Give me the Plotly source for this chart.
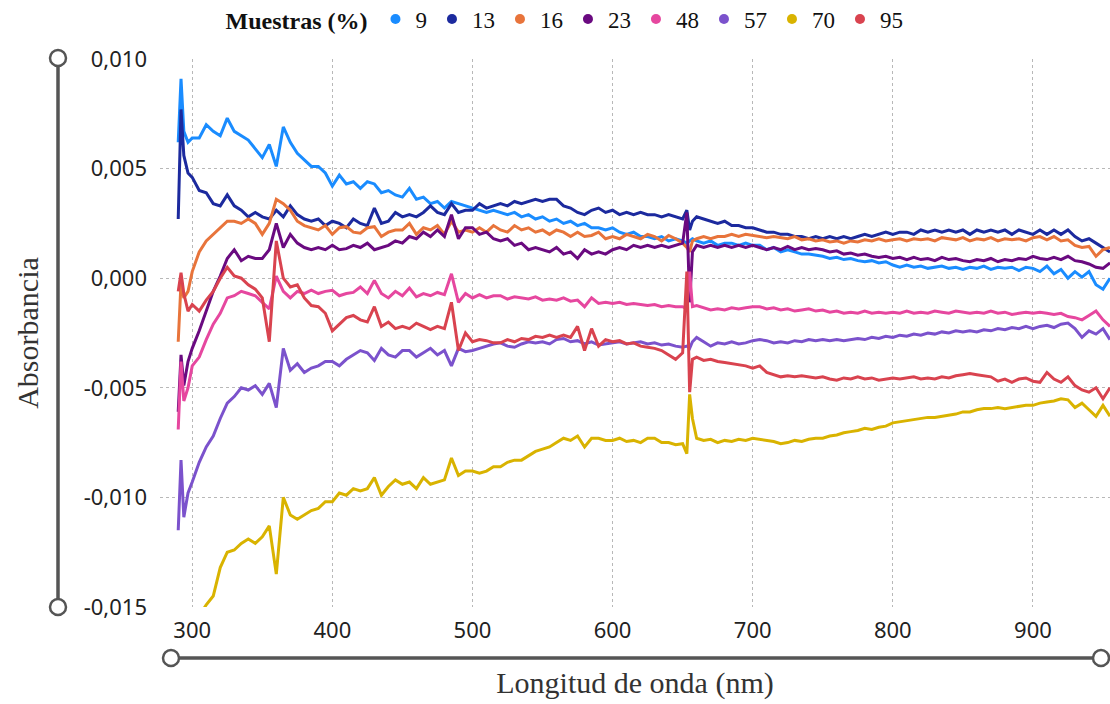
import plotly.graph_objects as go

# Wavelength grid (nm)
wavelength = [290, 292, 294, 297] + list(range(300, 651, 5)) + [653, 655, 657] + list(range(660, 956, 5))

# Absorbance values in milli-units (x 1e-3)
s9 = [6.2, 9.1, 6.7, 6.2,
      6.4, 6.4, 7.0, 6.7, 6.5, 7.3, 6.7, 6.5, 6.3, 5.9,
      5.5, 6.1, 5.1, 6.9, 6.2, 5.7, 5.4, 5.1, 5.1, 4.8,
      4.2, 4.7, 4.3, 4.4, 4.1, 4.4, 4.3, 3.9, 4.0, 3.8,
      3.7, 4.1, 3.6, 3.7, 3.4, 3.5, 3.2, 3.5, 3.4, 3.3,
      3.2, 3.1, 3.0, 3.1, 3.0, 2.9, 3.0, 2.8, 2.9, 2.7,
      2.8, 2.6, 2.7, 2.5, 2.6, 2.4, 2.5, 2.3, 2.3, 2.2,
      2.3, 2.1, 2.0, 2.1, 1.9, 1.9, 1.8, 1.9, 1.7, 1.8,
      1.7, 1.6, 1.7, 1.8,
      1.7, 1.6, 1.7, 1.5, 1.6, 1.6, 1.5, 1.6, 1.5, 1.5,
      1.3, 1.4, 1.2, 1.3, 1.2, 1.1, 1.1, 1.05, 1.0, 0.9,
      0.95, 0.85, 0.9, 0.8, 0.75, 0.8, 0.7, 0.75, 0.6, 0.5,
      0.6, 0.5, 0.55, 0.45, 0.5, 0.55, 0.45, 0.5, 0.4, 0.5,
      0.45, 0.55, 0.4, 0.5, 0.45, 0.5, 0.35, 0.5, 0.45, 0.3,
      0.55, 0.2, 0.4, 0.0, 0.3, 0.05, 0.3, -0.3, -0.5, 0.0]

s13 = [2.7, 7.7, 5.6, 4.8,
       4.6, 4.0, 3.9, 3.4, 3.3, 3.8, 3.3, 3.1, 2.8, 3.0,
       2.8, 2.7, 3.1, 2.8, 3.3, 2.9, 2.7, 2.6, 2.7, 2.4,
       2.6, 2.5, 2.3, 2.7, 2.5, 2.4, 3.2, 2.5, 2.6, 3.0,
       2.8, 2.9, 2.8, 3.0, 3.3, 3.0, 2.9, 3.4, 3.0, 3.1,
       3.1, 3.4, 3.2, 3.3, 3.4, 3.3, 3.5, 3.4, 3.5, 3.6,
       3.5, 3.6, 3.6, 3.3, 3.2, 3.0, 2.9, 3.1, 3.2, 3.0,
       3.1, 2.9, 3.0, 2.9, 3.0, 2.9, 2.9, 2.8, 2.9, 2.8,
       2.7, 3.1, 2.2, 2.6,
       2.8, 2.7, 2.6, 2.5, 2.6, 2.4, 2.4, 2.3, 2.3, 2.2,
       2.1, 2.1, 2.0, 2.0, 1.9, 1.9, 1.8, 1.9, 1.8, 1.9,
       1.8, 1.9, 1.8, 1.9, 2.0, 1.9, 2.0, 2.1, 2.0, 2.1,
       2.1, 2.0, 2.2, 2.1, 2.2, 2.1, 2.2, 2.1, 2.2, 2.0,
       2.2, 2.1, 2.2, 2.1, 2.2, 2.0, 2.2, 2.1, 2.0, 2.2,
       2.0, 2.2, 2.0, 2.2, 1.9, 1.7, 1.8, 1.6, 1.4, 1.2]

s16 = [-2.9, -0.2, -0.9, -0.6,
       0.3, 1.2, 1.7, 2.0, 2.3, 2.6, 2.6, 2.5, 2.7, 2.5,
       2.0, 2.5, 3.6, 3.4, 3.1, 2.6, 2.4, 2.3, 2.2, 2.4,
       2.0, 2.3, 2.35, 2.1, 2.05, 2.3, 2.35, 1.9, 2.1, 2.2,
       2.2, 2.5, 2.0, 2.3, 2.2, 2.4, 2.0, 2.6, 2.1, 2.2,
       2.1, 2.3, 2.1, 2.4, 2.2, 2.1, 2.4, 2.2, 2.3, 2.1,
       2.2, 2.0, 2.2, 2.1, 1.9, 2.1, 1.9, 1.95, 2.1, 1.8,
       1.9, 1.8, 2.0, 1.9, 1.8, 2.0, 1.9, 1.7, 1.95, 1.8,
       1.6, 1.4, 1.2, 1.7,
       1.8, 1.9, 1.8, 1.9, 1.9, 2.0, 1.9, 2.0, 1.95, 1.9,
       1.85, 1.9, 1.85, 1.8, 1.9, 1.75, 1.8, 1.7, 1.75, 1.65,
       1.7, 1.6, 1.7, 1.65, 1.75, 1.7, 1.8, 1.7, 1.75, 1.8,
       1.7, 1.8, 1.75, 1.8, 1.7, 1.85, 1.8, 1.75, 1.85, 1.7,
       1.8, 1.75, 1.85, 1.7, 1.8, 1.75, 1.8, 1.7, 1.85, 1.9,
       1.75, 1.9, 1.7, 1.75, 1.5, 1.4, 1.45, 1.0, 1.3, 1.4]

s23 = [-6.1, -3.5, -4.9, -3.8,
       -3.2, -2.4, -1.5, -0.6, 0.1, 0.9, 1.3, 0.8, 1.0, 0.9,
       0.9, 1.3, 2.5, 1.4, 2.0, 1.6, 1.4, 1.3, 1.4, 1.3,
       1.5, 1.3, 1.35, 1.5, 1.4, 1.6, 1.3, 1.4, 1.5, 1.7,
       1.6, 1.9, 1.8, 2.1, 1.9, 2.2, 1.9, 2.9, 1.8, 2.3,
       2.3, 2.0, 2.1, 1.8, 1.7, 1.8, 1.5, 1.6, 1.3, 1.4,
       1.3, 1.2, 1.4, 1.1, 1.2, 0.9, 1.3, 1.1, 1.2, 1.1,
       1.3, 1.4, 1.3, 1.5, 1.4, 1.5, 1.4, 1.5, 1.4, 1.5,
       1.6, 3.0, -1.1, 1.2,
       1.5, 1.4, 1.5, 1.4, 1.5, 1.4, 1.5, 1.4, 1.5, 1.4,
       1.3, 1.4, 1.3, 1.45, 1.3, 1.4, 1.3, 1.35, 1.3, 1.2,
       1.25, 1.1, 1.15, 1.05, 1.1, 1.0, 0.95, 1.0, 0.9, 0.95,
       0.85, 0.95, 0.85, 0.9, 0.8, 0.95, 0.85, 0.9, 0.8, 0.75,
       0.85, 0.8, 0.9, 0.75, 0.85, 0.8, 0.9, 0.85, 1.0, 0.9,
       0.85, 0.95, 0.85, 1.0, 0.8, 0.75, 0.65, 0.5, 0.45, 0.7]

s48 = [-6.9, -3.8, -5.6, -5.0,
       -4.0, -3.6, -2.8, -2.1, -1.6, -0.9, -0.8, -0.6, -0.7, -0.8,
       -1.1, -1.4, 0.1, -0.6, -0.9, -0.6, -0.7, -0.55, -0.7, -0.6,
       -0.55, -0.8, -0.7, -0.65, -0.4, -0.7, -0.1, -0.7, -0.9, -0.6,
       -0.8, -0.45, -0.85, -0.7, -0.8, -0.65, -0.75, 0.2, -1.1, -0.7,
       -0.9, -0.75, -0.9, -0.8, -0.8, -0.95, -0.85, -0.9, -0.95, -0.85,
       -1.0, -0.95, -1.0, -0.9, -1.05, -1.0, -1.3, -0.9, -1.15, -1.1,
       -1.15, -1.1, -1.2, -1.15, -1.2, -1.25, -1.2, -1.3, -1.25, -1.3,
       -1.3, -1.4, 0.3, -1.3,
       -1.25, -1.35, -1.45, -1.4, -1.45, -1.35, -1.4, -1.35, -1.3, -1.3,
       -1.4, -1.35, -1.45, -1.4, -1.5, -1.45, -1.4, -1.5, -1.45, -1.55,
       -1.5, -1.6, -1.55, -1.6, -1.5, -1.6, -1.55, -1.6, -1.55, -1.6,
       -1.5, -1.6, -1.55, -1.6, -1.5, -1.55, -1.6, -1.5, -1.55, -1.6,
       -1.55, -1.6, -1.5, -1.6, -1.55, -1.65, -1.6, -1.55, -1.6, -1.55,
       -1.6, -1.65, -1.6, -1.75, -1.8, -1.9, -1.7, -1.5, -1.9, -2.2]

s57 = [-11.5, -8.3, -10.9, -9.8,
       -9.3, -8.4, -7.7, -7.2, -6.4, -5.7, -5.4, -5.0, -5.1, -4.9,
       -5.3, -4.8, -5.9, -3.2, -4.2, -3.9, -4.3, -4.1, -4.0, -3.8,
       -3.8, -4.0, -3.7, -3.5, -3.3, -3.4, -3.75, -3.2, -3.5, -3.6,
       -3.3, -3.3, -3.6, -3.4, -3.2, -3.5, -3.3, -4.0, -3.2, -3.35,
       -3.3, -3.2, -3.1, -3.0, -2.95, -3.1, -3.15, -3.0, -2.9, -2.95,
       -2.9, -3.0, -2.8, -2.75, -2.9, -2.85, -3.0, -2.9, -3.05, -3.0,
       -2.95, -2.9, -3.0, -2.95, -2.9, -3.0, -2.95, -3.05, -3.0, -3.1,
       -3.15, -3.1, -3.2, -2.9,
       -2.7, -2.9, -3.1, -2.95, -3.0, -2.9, -3.0, -2.95, -2.85, -2.8,
       -2.85, -2.95, -2.9, -2.95, -2.85, -2.9, -2.8, -2.85, -2.8, -2.85,
       -2.8, -2.85, -2.8, -2.75, -2.8, -2.7, -2.75, -2.65, -2.7, -2.6,
       -2.65, -2.55, -2.6, -2.5, -2.55, -2.45, -2.5, -2.4, -2.45, -2.4,
       -2.45, -2.35, -2.4, -2.3, -2.35, -2.25, -2.3, -2.2, -2.3, -2.2,
       -2.15, -2.25, -2.1, -2.05, -2.3, -2.7, -2.4, -2.55, -2.3, -2.8]

s70 = [-17.0, -16.8, -16.5, -16.2,
       -15.8, -15.4, -14.9, -14.5, -13.2, -12.5, -12.4, -12.1, -11.9, -12.1,
       -11.8, -11.3, -13.5, -10.0, -10.8, -11.0, -10.8, -10.6, -10.5, -10.2,
       -10.2, -9.8, -9.9, -9.6, -9.7, -9.6, -9.1, -9.9, -9.5, -9.2,
       -9.4, -9.3, -9.6, -9.1, -9.4, -9.3, -9.2, -8.2, -9.0, -8.8,
       -8.8, -8.9, -8.8, -8.6, -8.6, -8.4, -8.3, -8.3, -8.1, -7.9,
       -7.8, -7.7, -7.5, -7.3, -7.4, -7.2, -7.7, -7.3, -7.3, -7.4,
       -7.4, -7.3, -7.45, -7.4, -7.5, -7.3, -7.3, -7.5, -7.5, -7.6,
       -7.55, -8.0, -5.3, -6.4,
       -7.3, -7.4, -7.35, -7.5, -7.4, -7.45, -7.35, -7.4, -7.3, -7.35,
       -7.4, -7.45, -7.55, -7.5, -7.4, -7.45, -7.35, -7.3, -7.3, -7.2,
       -7.15, -7.05, -7.0, -6.95, -6.85, -6.9, -6.8, -6.75, -6.6, -6.55,
       -6.5, -6.45, -6.4, -6.35, -6.35, -6.3, -6.25, -6.2, -6.1, -6.1,
       -6.0, -5.95, -5.95, -5.9, -5.95, -5.9, -5.85, -5.8, -5.8, -5.7,
       -5.65, -5.6, -5.5, -5.55, -5.9, -5.7, -6.0, -6.3, -5.8, -6.3]

s95 = [-0.6, 0.25, -0.7, -1.5,
       -1.2, -1.5, -1.0, -0.6, 0.0, 0.5, 0.1, 0.0, -0.3, -0.5,
       -0.9, -2.9, 1.7, 0.0, -0.4, -0.3, -0.9, -1.25, -1.3, -1.6,
       -2.4, -2.1, -1.8, -1.7, -1.9, -2.0, -1.3, -2.2, -2.0, -2.3,
       -2.2, -2.3, -2.05, -2.2, -2.35, -2.2, -2.3, -1.1, -3.3, -2.5,
       -2.9, -2.8, -2.85, -2.95, -2.95, -2.8, -2.9, -2.75, -2.8, -2.65,
       -2.7, -2.6, -2.7, -2.6, -2.7, -2.2, -3.3, -2.3, -3.1, -2.8,
       -2.9, -2.85, -3.0, -2.95, -3.1, -3.15, -3.2, -3.3, -3.5, -3.7,
       -3.4, 0.3, -5.2, -3.7,
       -3.6, -3.75, -3.7, -3.8, -3.85, -3.9, -3.95, -4.0, -4.1, -4.0,
       -4.3, -4.4, -4.5, -4.45, -4.5, -4.45, -4.5, -4.55, -4.5, -4.6,
       -4.65, -4.55, -4.6, -4.5, -4.6, -4.55, -4.65, -4.6, -4.55, -4.6,
       -4.55, -4.5, -4.6, -4.55, -4.6, -4.5, -4.55, -4.45, -4.4, -4.35,
       -4.4, -4.45, -4.5, -4.7, -4.6, -4.75, -4.6, -4.55, -4.7, -4.75,
       -4.3, -4.6, -4.75, -4.5, -4.9, -5.1, -5.2, -5.0, -5.5, -5.0]

sample_names = ["9", "13", "16", "23", "48", "57", "70", "95"]
sample_series = [s9, s13, s16, s23, s48, s57, s70, s95]
sample_colors = ["#1a8cff", "#1c2a9e", "#e8743b", "#6a0a80",
                 "#e6479f", "#7b52cc", "#d9b300", "#d9434f"]

y_tick_values = [-0.015, -0.010, -0.005, 0.0, 0.005, 0.010]
y_tick_labels = ["-0,015", "-0,010", "-0,005", "0,000", "0,005", "0,010"]
x_tick_values = [300, 400, 500, 600, 700, 800, 900]

SERIF = "Liberation Serif, Times New Roman, serif"
SANS = "Noto Sans, Open Sans, sans-serif"

fig = go.Figure()
for name, vals, col in zip(sample_names, sample_series, sample_colors):
    fig.add_trace(go.Scatter(
        x=wavelength, y=[v / 1000 for v in vals], mode="lines",
        line=dict(color=col, width=3), name=name, showlegend=False,
        hoverinfo="skip"))
# legend entries as dots
for name, col in zip(sample_names, sample_colors):
    fig.add_trace(go.Scatter(
        x=[None], y=[None], mode="markers", name=name,
        marker=dict(color=col, size=10), showlegend=True))

W, H = 1110, 704
L, R, T, B = 160, 0, 59, 97
pw, ph = W - L - R, H - T - B


def px(xp):
    return (xp - L) / pw


def py(yp):
    return (H - B - yp) / ph


line_col = "#555555"
shapes = [
    dict(type="line", xref="paper", yref="paper", x0=px(58), x1=px(58), y0=py(58), y1=py(607),
         line=dict(color=line_col, width=3.5)),
    dict(type="line", xref="paper", yref="paper", x0=px(171), x1=px(1101), y0=py(658), y1=py(658),
         line=dict(color=line_col, width=3.5)),
]
for cx, cy in [(58, 58), (58, 607), (171, 658), (1101, 658)]:
    shapes.append(dict(type="circle", xref="paper", yref="paper",
                       xsizemode="pixel", ysizemode="pixel",
                       xanchor=px(cx), yanchor=py(cy),
                       x0=-8, x1=8, y0=-8, y1=8,
                       fillcolor="white", line=dict(color=line_col, width=2.5)))

fig.update_layout(
    width=W, height=H,
    margin=dict(l=L, r=R, t=T, b=B, autoexpand=False),
    paper_bgcolor="white", plot_bgcolor="white",
    shapes=shapes,
    legend=dict(orientation="h", x=px(566), xanchor="center", y=py(19), yanchor="middle",
                title=dict(text="<b>Muestras (%)</b>", font=dict(family=SERIF, size=24, color="#111")),
                font=dict(family=SERIF, size=23, color="#111"),
                itemwidth=30, bgcolor="rgba(0,0,0,0)", tracegroupgap=0),
    xaxis=dict(range=[277, 955], tickvals=x_tick_values, showgrid=True,
               gridcolor="#b8b8b8", griddash="dot", gridwidth=1,
               zeroline=False, showline=False, ticks="",
               tickfont=dict(family=SANS, size=22, color="#222"),
               ticklabelstandoff=8,
               title=dict(text="Longitud de onda (nm)", font=dict(family=SERIF, size=30, color="#333"),
                          standoff=28)),
    yaxis=dict(range=[-0.015, 0.010], tickvals=y_tick_values, ticktext=y_tick_labels,
               showgrid=True, gridcolor="#b8b8b8", griddash="dot", gridwidth=1,
               zeroline=False, showline=False, ticks="",
               tickfont=dict(family=SANS, size=22, color="#222"),
               ticklabelstandoff=12,
               title=dict(text="Absorbancia", font=dict(family=SERIF, size=30, color="#333"),
                          standoff=36)),
)

fig.write_html("out.html")
